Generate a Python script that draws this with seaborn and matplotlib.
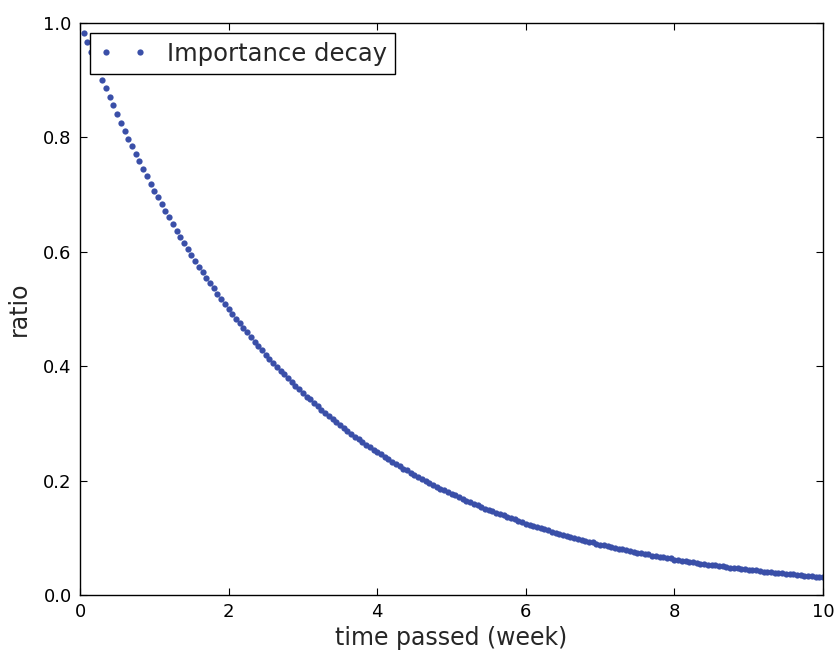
import matplotlib
matplotlib.use("Agg")
import seaborn as sns
from matplotlib import pyplot as plt

# time axis (weeks), one sample every 0.05 week
weeks = [
    0.05, 0.10, 0.15, 0.20, 0.25, 0.30, 0.35, 0.40, 0.45, 0.50,
    0.55, 0.60, 0.65, 0.70, 0.75, 0.80, 0.85, 0.90, 0.95, 1.00,
    1.05, 1.10, 1.15, 1.20, 1.25, 1.30, 1.35, 1.40, 1.45, 1.50,
    1.55, 1.60, 1.65, 1.70, 1.75, 1.80, 1.85, 1.90, 1.95, 2.00,
    2.05, 2.10, 2.15, 2.20, 2.25, 2.30, 2.35, 2.40, 2.45, 2.50,
    2.55, 2.60, 2.65, 2.70, 2.75, 2.80, 2.85, 2.90, 2.95, 3.00,
    3.05, 3.10, 3.15, 3.20, 3.25, 3.30, 3.35, 3.40, 3.45, 3.50,
    3.55, 3.60, 3.65, 3.70, 3.75, 3.80, 3.85, 3.90, 3.95, 4.00,
    4.05, 4.10, 4.15, 4.20, 4.25, 4.30, 4.35, 4.40, 4.45, 4.50,
    4.55, 4.60, 4.65, 4.70, 4.75, 4.80, 4.85, 4.90, 4.95, 5.00,
    5.05, 5.10, 5.15, 5.20, 5.25, 5.30, 5.35, 5.40, 5.45, 5.50,
    5.55, 5.60, 5.65, 5.70, 5.75, 5.80, 5.85, 5.90, 5.95, 6.00,
    6.05, 6.10, 6.15, 6.20, 6.25, 6.30, 6.35, 6.40, 6.45, 6.50,
    6.55, 6.60, 6.65, 6.70, 6.75, 6.80, 6.85, 6.90, 6.95, 7.00,
    7.05, 7.10, 7.15, 7.20, 7.25, 7.30, 7.35, 7.40, 7.45, 7.50,
    7.55, 7.60, 7.65, 7.70, 7.75, 7.80, 7.85, 7.90, 7.95, 8.00,
    8.05, 8.10, 8.15, 8.20, 8.25, 8.30, 8.35, 8.40, 8.45, 8.50,
    8.55, 8.60, 8.65, 8.70, 8.75, 8.80, 8.85, 8.90, 8.95, 9.00,
    9.05, 9.10, 9.15, 9.20, 9.25, 9.30, 9.35, 9.40, 9.45, 9.50,
    9.55, 9.60, 9.65, 9.70, 9.75, 9.80, 9.85, 9.90, 9.95, 10.00,
]

# importance ratio
ratio = [
    0.983, 0.966, 0.949, 0.933, 0.917, 0.901, 0.886, 0.871, 0.856, 0.841,
    0.826, 0.812, 0.798, 0.785, 0.771, 0.758, 0.745, 0.732, 0.719, 0.707,
    0.695, 0.683, 0.671, 0.660, 0.648, 0.637, 0.626, 0.616, 0.605, 0.595,
    0.584, 0.574, 0.564, 0.555, 0.545, 0.536, 0.527, 0.518, 0.509, 0.500,
    0.491, 0.483, 0.475, 0.467, 0.459, 0.451, 0.443, 0.435, 0.428, 0.420,
    0.413, 0.406, 0.399, 0.392, 0.386, 0.379, 0.372, 0.366, 0.360, 0.354,
    0.347, 0.342, 0.336, 0.330, 0.324, 0.319, 0.313, 0.308, 0.302, 0.297,
    0.292, 0.287, 0.282, 0.277, 0.273, 0.268, 0.263, 0.259, 0.254, 0.250,
    0.246, 0.241, 0.237, 0.233, 0.229, 0.225, 0.221, 0.218, 0.214, 0.210,
    0.207, 0.203, 0.200, 0.196, 0.193, 0.189, 0.186, 0.183, 0.180, 0.177,
    0.174, 0.171, 0.168, 0.165, 0.162, 0.159, 0.157, 0.154, 0.151, 0.149,
    0.146, 0.144, 0.141, 0.139, 0.136, 0.134, 0.132, 0.129, 0.127, 0.125,
    0.123, 0.121, 0.119, 0.117, 0.115, 0.113, 0.111, 0.109, 0.107, 0.105,
    0.103, 0.102, 0.100, 0.098, 0.096, 0.095, 0.093, 0.092, 0.090, 0.088,
    0.087, 0.085, 0.084, 0.082, 0.081, 0.080, 0.078, 0.077, 0.076, 0.074,
    0.073, 0.072, 0.071, 0.069, 0.068, 0.067, 0.066, 0.065, 0.064, 0.062,
    0.061, 0.060, 0.059, 0.058, 0.057, 0.056, 0.055, 0.054, 0.053, 0.053,
    0.052, 0.051, 0.050, 0.049, 0.048, 0.047, 0.047, 0.046, 0.045, 0.044,
    0.043, 0.043, 0.042, 0.041, 0.041, 0.040, 0.039, 0.038, 0.038, 0.037,
    0.037, 0.036, 0.035, 0.035, 0.034, 0.033, 0.033, 0.032, 0.032, 0.031,
]

sns.set_style("white")
plt.rcParams.update({
    "font.family": ["DejaVu Sans"],
    "xtick.direction": "in",
    "ytick.direction": "in",
    "xtick.top": True,
    "ytick.right": True,
    "xtick.bottom": True,
    "ytick.left": True,
    "xtick.major.size": 5,
    "ytick.major.size": 5,
    "xtick.major.pad": 6,
    "ytick.major.pad": 6,
    "axes.edgecolor": "black",
    "axes.linewidth": 1.0,
})

fig = plt.figure(figsize=(8.37, 6.55), dpi=100)
ax = fig.add_axes([0.0956, 0.0916, 0.8877, 0.8733])

sns.lineplot(x=weeks, y=ratio, ax=ax, linestyle="", marker="o",
             markersize=4.5, markeredgewidth=0, color="#3a4fa8",
             label="Importance decay")

ax.set_xlim(0, 10)
ax.set_ylim(0, 1.0)
ax.set_xticks([0, 2, 4, 6, 8, 10])
ax.set_yticks([0.0, 0.2, 0.4, 0.6, 0.8, 1.0])
ax.tick_params(labelsize=13, colors="black")
ax.set_xlabel("time passed (week)", fontsize=17, labelpad=3)
ax.set_ylabel("ratio", fontsize=17, labelpad=9)

leg = ax.legend(loc="upper left", numpoints=2, fontsize=17.5, fancybox=False,
                frameon=True, framealpha=1, edgecolor="black",
                borderaxespad=0.42, borderpad=0.35)
leg.get_frame().set_linewidth(1.0)

fig.savefig("out.png", dpi=100)
